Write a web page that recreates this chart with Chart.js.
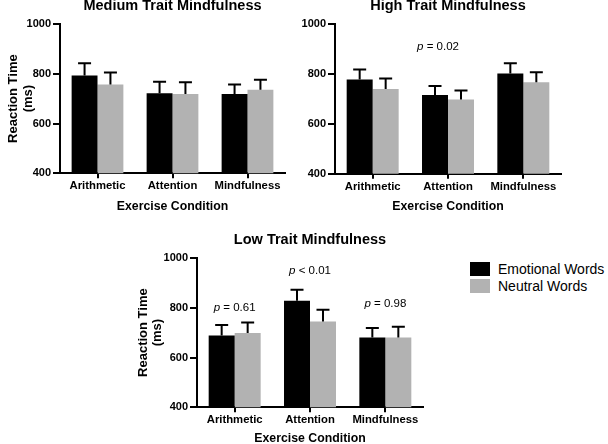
<!DOCTYPE html>
<html>
<head>
<meta charset="utf-8">
<script src="https://cdn.jsdelivr.net/npm/chart.js@4.4.1/dist/chart.umd.min.js"></script>
<style>
  html, body { margin: 0; padding: 0; background: #fff; }
  body { width: 608px; height: 444px; overflow: hidden; position: relative;
         font-family: 'Liberation Sans', Arial, sans-serif; }
  canvas { position: absolute; }
  #legend { position: absolute; left: 470px; top: 262px; font-size: 14px; color: #000; }
  .item { position: relative; height: 17px; }
  .sw { position: absolute; left: 0; top: 0; width: 20px; height: 14px; }
  .lbl { position: absolute; left: 28px; top: 0; line-height: 14px; white-space: nowrap; }
</style>
</head>
<body>
<canvas id="medium" width="300" height="226" style="left:0px;top:-3px"></canvas>
<canvas id="high" width="300" height="226" style="left:300px;top:-3px"></canvas>
<canvas id="low" width="300" height="219" style="left:130px;top:231px"></canvas>
<div id="legend"></div>

<script>
const categories = ['Arithmetic', 'Attention', 'Mindfulness'];
const seriesNames = ['Emotional Words', 'Neutral Words'];
const yTicks = [400, 600, 800, 1000];

// medium trait
const mediumEmotional = [793, 721, 718];
const mediumEmotionalErr = [49, 47, 39];
const mediumNeutral = [757, 718, 736];
const mediumNeutralErr = [48, 48, 40];

// high trait
const highEmotional = [777, 715, 801];
const highEmotionalErr = [40, 36, 41];
const highNeutral = [739, 697, 766];
const highNeutralErr = [42, 36, 40];

// low trait
const lowEmotional = [688, 828, 680];
const lowEmotionalErr = [43, 44, 38];
const lowNeutral = [698, 745, 680];
const lowNeutralErr = [43, 47, 43];

const highPValues = ['', 'p = 0.02', ''];
const lowPValues = ['p = 0.61', 'p < 0.01', 'p = 0.98'];

const colors = ['#000000', '#b2b2b2'];
const FONT = "'Liberation Sans', Arial, sans-serif";

Chart.defaults.color = '#000';
Chart.defaults.font.family = FONT;

// legend
const legend = document.getElementById('legend');
seriesNames.forEach((name, i) => {
  const item = document.createElement('div');
  item.className = 'item';
  item.innerHTML = '<div class="sw" style="background:' + colors[i] + '"></div><div class="lbl">' + name + '</div>';
  legend.appendChild(item);
});

const errorBars = {
  id: 'errorBars',
  afterDatasetsDraw(chart) {
    const ctx = chart.ctx;
    const y = chart.scales.y;
    ctx.save();
    ctx.strokeStyle = '#000';
    ctx.lineWidth = 2;
    chart.data.datasets.forEach((ds, i) => {
      chart.getDatasetMeta(i).data.forEach((bar, j) => {
        const top = y.getPixelForValue(ds.data[j] + ds.errors[j]);
        ctx.beginPath();
        ctx.moveTo(bar.x, bar.y);
        ctx.lineTo(bar.x, top);
        ctx.moveTo(bar.x - 6.5, top);
        ctx.lineTo(bar.x + 6.5, top);
        ctx.stroke();
      });
    });
    ctx.restore();
  }
};

// p value notes, placed at a value height over each category
function pNotes(texts, at, dx) {
  return {
    id: 'pNotes',
    afterDraw(chart) {
      const ctx = chart.ctx;
      const x = chart.scales.x, y = chart.scales.y;
      ctx.save();
      ctx.fillStyle = '#000';
      ctx.textBaseline = 'middle';
      ctx.textAlign = 'left';
      texts.forEach((t, i) => {
        if (!t) return;
        const rest = t.slice(1);
        ctx.font = 'italic 11.5px ' + FONT;
        const w1 = ctx.measureText('p').width;
        ctx.font = '11.5px ' + FONT;
        const w2 = ctx.measureText(rest).width;
        const cx = x.getPixelForValue(i) + (dx ? dx[i] : 0);
        const cy = y.getPixelForValue(at[i]);
        const left = cx - (w1 + w2) / 2;
        ctx.font = 'italic 11.5px ' + FONT;
        ctx.fillText('p', left, cy);
        ctx.font = '11.5px ' + FONT;
        ctx.fillText(rest, left + w1, cy);
      });
      ctx.restore();
    }
  };
}

function makePanel(id, title, emo, emoErr, neu, neuErr, lay, extra) {
  const yTitle = lay.yTitle
    ? { display: true, text: ['Reaction Time', '(ms)'], font: { size: 13, weight: 'bold', lineHeight: 1.1 }, padding: { top: lay.yTitlePad, bottom: 0 } }
    : { display: false };
  return new Chart(document.getElementById(id), {
    type: 'bar',
    data: {
      labels: categories,
      datasets: [
        { label: seriesNames[0], data: emo, errors: emoErr, backgroundColor: colors[0] },
        { label: seriesNames[1], data: neu, errors: neuErr, backgroundColor: colors[1] }
      ]
    },
    options: {
      responsive: false,
      animation: false,
      layout: { padding: { left: 0, top: 0, right: lay.padRight, bottom: 0 } },
      datasets: { bar: { categoryPercentage: 0.69, barPercentage: 1.0 } },
      plugins: {
        legend: { display: false },
        tooltip: { enabled: false },
        title: {
          display: true,
          text: title,
          fullSize: false,
          font: { size: 14.5, weight: 'bold' },
          padding: { top: 0, bottom: 9.5 }
        }
      },
      scales: {
        x: {
          grid: { offset: false, drawOnChartArea: false, tickLength: 5, color: '#000', lineWidth: 2 },
          border: { display: true, color: '#000', width: 2 },
          ticks: { font: { size: 11.3, weight: 'bold' }, padding: 1, maxRotation: 0 },
          title: { display: true, text: 'Exercise Condition', font: { size: 12.3, weight: 'bold' }, padding: { top: 0, bottom: lay.xTitlePad } },
          afterFit(scale) { scale.height = lay.xHeight; }
        },
        y: {
          min: 400,
          max: 1000,
          afterBuildTicks(scale) { scale.ticks = yTicks.map(v => ({ value: v })); },
          grid: { drawOnChartArea: false, tickLength: 7, color: '#000', lineWidth: 2 },
          border: { display: true, color: '#000', width: 2 },
          ticks: { font: { size: 11, weight: 'bold' }, padding: 2, callback: v => String(v) },
          title: yTitle,
          afterFit(scale) { scale.width = lay.yWidth; }
        }
      }
    },
    plugins: [errorBars].concat(extra || [])
  });
}

makePanel('medium', 'Medium Trait Mindfulness',
  mediumEmotional, mediumEmotionalErr, mediumNeutral, mediumNeutralErr,
  { yTitle: true, yTitlePad: 6.7, yWidth: 60, padRight: 15, xHeight: 49.7, xTitlePad: 8.8 });

makePanel('high', 'High Trait Mindfulness',
  highEmotional, highEmotionalErr, highNeutral, highNeutralErr,
  { yTitle: false, yWidth: 35, padRight: 39, xHeight: 49.2, xTitlePad: 8.8 },
  [pNotes(highPValues, [null, 910, null], [0, -10, 0])]);

makePanel('low', 'Low Trait Mindfulness',
  lowEmotional, lowEmotionalErr, lowNeutral, lowNeutralErr,
  { yTitle: true, yTitlePad: 5.8, yWidth: 67, padRight: 7, xHeight: 42.7, xTitlePad: 4.5 },
  [pNotes(lowPValues, [800, 949, 816])]);
</script>
</body>
</html>
